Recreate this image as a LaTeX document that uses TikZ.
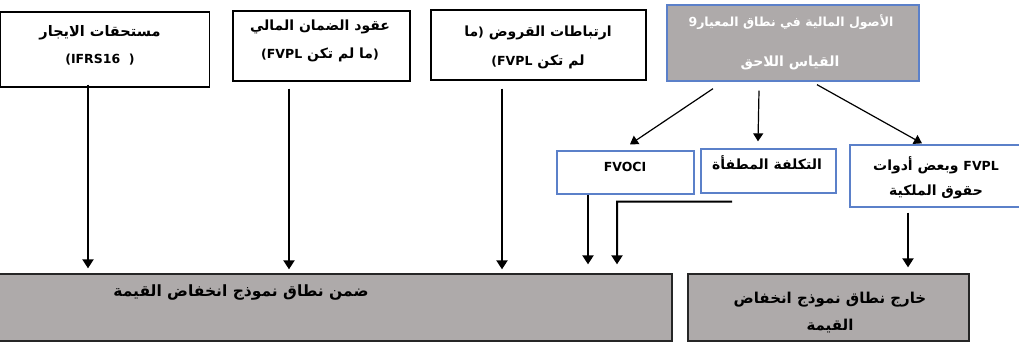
\documentclass[tikz,border=0pt]{standalone}
\usepackage{fontspec}
\newfontfamily\ar[Script=Arabic]{DejaVu Sans}
\newfontfamily\lat{DejaVu Sans}
\TeXXeTstate=1
\usetikzlibrary{arrows.meta,calc}
\definecolor{gry}{HTML}{AEAAAA}
\definecolor{blu}{HTML}{5B80C9}
\newcommand\artxt[1]{\beginR #1\endR}
\newcommand\lt[1]{{\lat\bfseries\fontsize{12.5bp}{14bp}\selectfont #1}}
\begin{document}
\begin{tikzpicture}[x=1bp,y=-1bp,
  blk/.style={draw=black, line width=1.3bp, inner sep=0pt},
  blb/.style={draw=blu, line width=1.3bp, inner sep=0pt},
  gbox/.style={fill=gry, draw=black!85, line width=1.3bp, inner sep=0pt},
  ggbox/.style={fill=gry, draw=blu, line width=1.3bp, inner sep=0pt},
  txt/.style={font=\ar\bfseries\fontsize{14bp}{16bp}\selectfont, inner sep=0pt, text=black},
  wtxt/.style={txt, text=white},
  arr/.style={-{Triangle[width=11bp,length=9bp]}, line width=2bp},
  darr/.style={-{Triangle[width=10bp,length=8bp]}, line width=1.2bp}]
\clip (0,0) rectangle (1019,342);
\fill[white] (0,0) rectangle (1019,342);
% top boxes
\node[blk, minimum width=209bp, minimum height=75bp] (b1) at (105,49.5) {};
\node[blk, minimum width=177bp, minimum height=70bp] (b2) at (321.5,46) {};
\node[blk, minimum width=215bp, minimum height=70bp] (b3) at (538.5,45) {};
\node[ggbox, minimum width=252bp, minimum height=76bp] (b4) at (793,43) {};
% middle boxes
\node[blb, minimum width=137bp, minimum height=43bp] (fvoci) at (625.5,172.5) {};
\node[blb, minimum width=135bp, minimum height=44bp] (amort) at (768.5,171) {};
\node[blb, minimum width=171bp, minimum height=62bp] (fvpl) at (935.5,176) {};
% bottom boxes
\node[gbox, minimum width=674bp, minimum height=67bp] (bigbox) at (335,307.5) {};
\node[gbox, minimum width=281bp, minimum height=67bp] (outbox) at (828.5,307.5) {};
% texts
\node[txt, font=\ar\bfseries\fontsize{14.5bp}{16bp}\selectfont] (t1a) at (100,33) {\artxt{مستحقات الايجار}};
\node[txt] (t1b) at (100,60) {\lt{(IFRS16\ \ )}};
\node[txt] (t2a) at (320,27) {\artxt{عقود الضمان المالي}};
\node[txt] (t2b) at (320,55) {\lt{(FVPL} \artxt{ما لم تكن}\lt{)}};
\node[txt] (t3a) at (538,33) {\artxt{ما}\lt{)}\ \artxt{ارتباطات القروض}};
\node[txt] (t3b) at (538,62) {\lt{(FVPL} \artxt{لم تكن}};
\node[wtxt, font=\ar\bfseries\fontsize{12.5bp}{14bp}\selectfont] (t4a) at (791,22) {\artxt{الأصول المالية في نطاق المعيار\hbox{\lt{9}}}};
\node[wtxt] (t4b) at (790,63) {\artxt{القياس اللاحق}};
\node[txt] (t5) at (625,167) {\lt{FVOCI}};
\node[txt] (t6) at (767,163) {\artxt{التكلفة المطفأة}};
\node[txt] (t7a) at (936,165) {\artxt{وبعض أدوات} \lt{FVPL}};
\node[txt] (t7b) at (936,192) {\artxt{حقوق الملكية}};
\node[txt, font=\ar\bfseries\fontsize{15.5bp}{17bp}\selectfont] (t8) at (241,292) {\artxt{ضمن نطاق نموذج انخفاض القيمة}};
\node[txt, font=\ar\bfseries\fontsize{15bp}{17bp}\selectfont] (t9a) at (830,300) {\artxt{خارج نطاق نموذج انخفاض}};
\node[txt, font=\ar\bfseries\fontsize{15bp}{17bp}\selectfont] (t9b) at (830,326) {\artxt{القيمة}};
% connectors from b4
\draw[darr] ($(b4.south)+(-80,7)$) -- ($(fvoci.north)+(4.5,-6)$);
\draw[darr] ($(b4.south)+(-34,9)$) -- ($(amort.north)+(-10.5,-7)$);
\draw[darr] ($(b4.south)+(24,3)$) -- ($(fvpl.north)+(-13.5,-1)$);
% vertical arrows
\coordinate (s1) at ($(b1.south)+(-17,-3)$);
\coordinate (s2) at ($(b2.south)+(-32.5,7)$);
\coordinate (s3) at ($(b3.south)+(-36.5,8)$);
\coordinate (s4) at ($(fvoci.south)+(-37.5,0)$);
\coordinate (e1) at ($(amort.south)+(-36.5,8)$);
\coordinate (e2) at ($(fvoci.south)+(-8.5,7)$);
\coordinate (s6) at ($(fvpl.south)+(-27.5,5)$);
\draw[arr, shorten >=5bp] (s1) -- (s1 |- bigbox.north);
\draw[arr, shorten >=4bp] (s2) -- (s2 |- bigbox.north);
\draw[arr, shorten >=4bp] (s3) -- (s3 |- bigbox.north);
\draw[arr, shorten >=9bp] (s4) -- (s4 |- bigbox.north);
\draw[arr, shorten >=9bp] (e1) -- (e2) -- (e2 |- bigbox.north);
\draw[arr, shorten >=6bp] (s6) -- (s6 |- outbox.north);
\end{tikzpicture}
\end{document}
